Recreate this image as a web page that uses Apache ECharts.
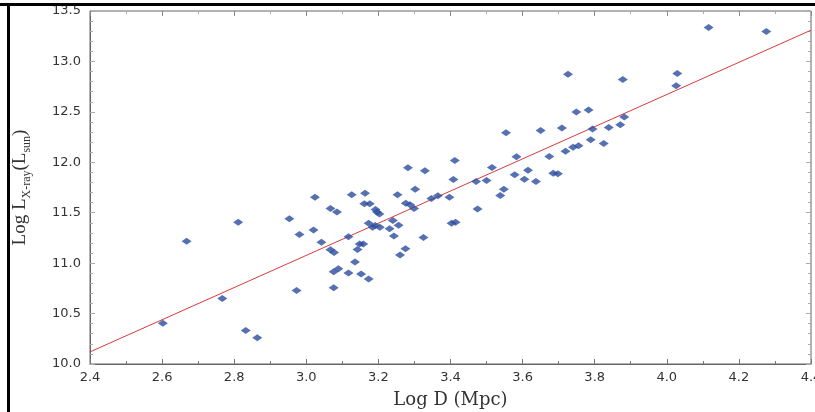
<!DOCTYPE html>
<html>
<head>
<meta charset="utf-8">
<script src="https://cdn.jsdelivr.net/npm/echarts@6/dist/echarts.min.js"></script>
<style>
  html, body { margin: 0; padding: 0; background: #fff; }
  #chart { width: 815px; height: 412px; }
</style>
</head>
<body>
<div id="chart"></div>
<script>
// Log D (Mpc) for each galaxy
const logD = [
  2.602, 2.668, 2.767, 2.811, 2.832, 2.864, 2.953, 2.981, 2.973, 3.024,
  3.020, 3.042, 3.067, 3.085, 3.067, 3.077, 3.076, 3.089, 3.076, 3.126,
  3.117, 3.117, 3.135, 3.142, 3.148, 3.158, 3.152, 3.173, 3.163, 3.161,
  3.176, 3.192, 3.196, 3.203, 3.173, 3.184, 3.191, 3.204, 3.231, 3.240,
  3.256, 3.243, 3.253, 3.282, 3.275, 3.260, 3.276, 3.288, 3.299, 3.302,
  3.329, 3.347, 3.365, 3.325, 3.397, 3.408, 3.412, 3.403, 3.414, 3.471,
  3.475, 3.500, 3.515, 3.538, 3.548, 3.554, 3.578, 3.583, 3.605, 3.615,
  3.637, 3.650, 3.674, 3.685, 3.698, 3.709, 3.719, 3.726, 3.740, 3.755,
  3.749, 3.783, 3.794, 3.789, 3.825, 3.839, 3.871, 3.882, 3.878, 4.029,
  4.026, 4.116, 4.276
];
// Log L_X-ray (L_sun)
const logLx = [
  10.405, 11.216, 10.649, 11.405, 10.331, 10.261, 11.441, 11.285, 10.729, 11.653,
  11.329, 11.206, 11.541, 11.508, 11.133, 11.106, 10.915, 10.944, 10.755, 11.677,
  11.262, 10.902, 11.011, 11.136, 11.190, 11.190, 10.892, 10.842, 11.693, 11.590,
  11.590, 11.531, 11.508, 11.488, 11.395, 11.355, 11.372, 11.355, 11.342, 11.424,
  11.375, 11.269, 11.677, 11.945, 11.143, 11.081, 11.593, 11.578, 11.541, 11.733,
  11.915, 11.640, 11.667, 11.255, 11.653, 11.829, 12.018, 11.395, 11.405, 11.809,
  11.538, 11.819, 11.948, 11.670, 11.733, 12.293, 11.876, 12.055, 11.832, 11.921,
  11.809, 12.316, 12.058, 11.892, 11.886, 12.339, 12.110, 12.873, 12.150, 12.164,
  12.498, 12.518, 12.329, 12.224, 12.187, 12.346, 12.373, 12.448, 12.820, 12.880,
  12.760, 13.337, 13.297
];
// fitted line end points
const fitX = [2.4, 4.4];
const fitY = [10.12, 13.31];

const points = logD.map((x, i) => [x, logLx[i]]);
const fitLine = fitX.map((x, i) => [x, fitY[i]]);

const tickStyle = { color: '#aaa', width: 1 };
const labelFont = { color: '#333', fontSize: 13, fontFamily: 'DejaVu Sans' };

const chart = echarts.init(document.getElementById('chart'));
chart.setOption({
  animation: false,
  grid: {
    left: 90, right: 4, top: 11, bottom: 48,
    outerBoundsMode: 'none',
    show: true, borderColor: '#666', borderWidth: 1
  },
  xAxis: [
    {
      type: 'value', min: 2.4, max: 4.4, interval: 0.2,
      name: 'Log D (Mpc)', nameLocation: 'middle', nameGap: 27,
      nameTextStyle: { fontFamily: 'DejaVu Serif', fontSize: 18, color: '#333' },
      axisLine: { show: true, lineStyle: { color: '#666' } },
      axisTick: { inside: true, length: 5, lineStyle: { color: '#777' } },
      minorTick: { show: true, splitNumber: 2, length: 3, lineStyle: { color: '#777' } },
      splitLine: { show: false },
      axisLabel: Object.assign({ margin: 7, formatter: v => v.toFixed(1) }, labelFont)
    },
    {
      type: 'value', position: 'top', min: 2.4, max: 4.4, interval: 0.2,
      axisLine: { show: false },
      axisTick: { inside: true, length: 5, lineStyle: { color: '#888' } },
      minorTick: { show: true, splitNumber: 2, length: 3, lineStyle: tickStyle },
      splitLine: { show: false }, axisLabel: { show: false }
    }
  ],
  yAxis: [
    {
      type: 'value', min: 10, max: 13.5, interval: 0.5,
      name: '{n|Log L}{s|X-ray}{n|(L}{s|sun}{n|)}',
      nameLocation: 'middle', nameGap: 60, nameRotate: 90,
      nameTextStyle: {
        rich: {
          n: { fontFamily: 'Liberation Serif', fontSize: 19, color: '#333', verticalAlign: 'bottom' },
          s: { fontFamily: 'Liberation Serif', fontSize: 12, color: '#333', verticalAlign: 'bottom', padding: [0, 0, -3, 0] }
        }
      },
      axisLine: { show: true, lineStyle: { color: '#666' } },
      axisTick: { inside: true, length: 5, lineStyle: tickStyle },
      minorTick: { show: true, splitNumber: 5, length: 3, lineStyle: tickStyle },
      splitLine: { show: false },
      axisLabel: Object.assign({ margin: 9, formatter: v => v.toFixed(1) }, labelFont)
    },
    {
      type: 'value', position: 'right', min: 10, max: 13.5, interval: 0.5,
      axisLine: { show: false },
      axisTick: { inside: true, length: 5, lineStyle: tickStyle },
      minorTick: { show: true, splitNumber: 5, length: 3, lineStyle: tickStyle },
      splitLine: { show: false }, axisLabel: { show: false }
    }
  ],
  graphic: [
    { type: 'rect', shape: { x: 0, y: 3, width: 815, height: 3 }, style: { fill: '#000' }, z: 100 },
    { type: 'rect', shape: { x: 7, y: 3, width: 3, height: 409 }, style: { fill: '#000' }, z: 100 }
  ],
  series: [
    {
      type: 'line', data: fitLine, symbol: 'none',
      lineStyle: { color: '#d9393b', width: 1 }, z: 2
    },
    {
      type: 'scatter', data: points, symbol: 'diamond', symbolSize: [10, 7],
      itemStyle: { color: '#2c4d9e' }, z: 3
    }
  ]
});
window.addEventListener('resize', function () {
  chart.resize();
});
</script>
</body>
</html>
